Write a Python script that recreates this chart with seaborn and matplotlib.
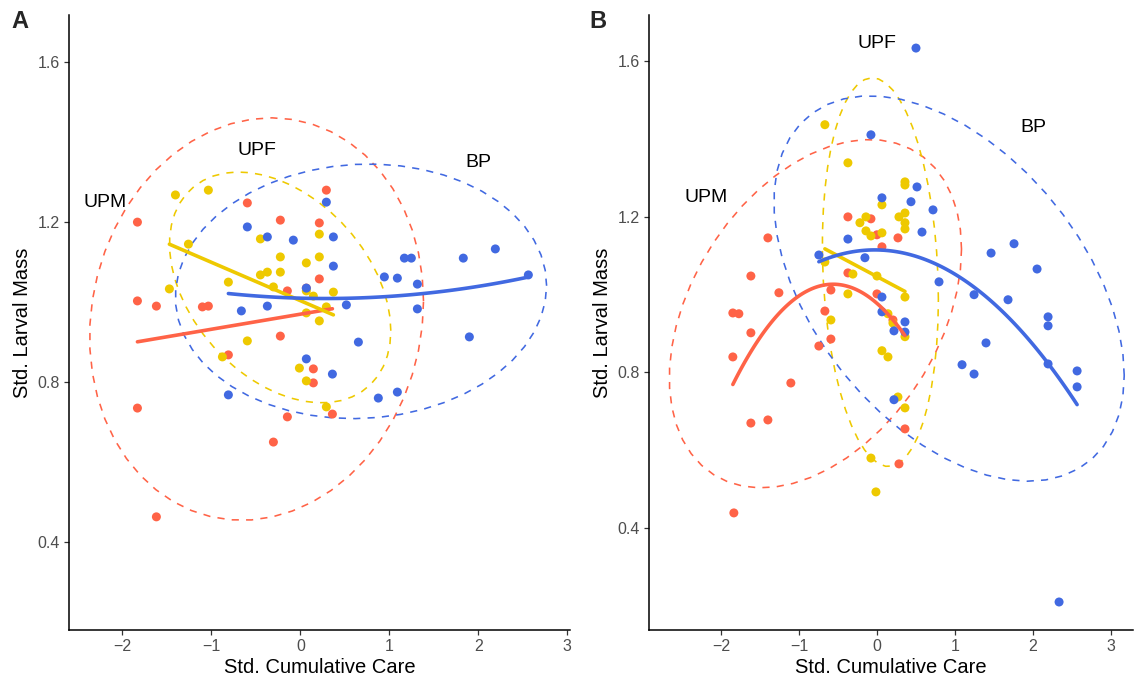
import numpy as np
import pandas as pd
import matplotlib
matplotlib.use("Agg")
import matplotlib.pyplot as plt
import seaborn as sns

# ---------------- data ----------------
groups = ["UPM", "UPF", "BP"]
palette = {"UPM": "#FF6347", "UPF": "#EEC900", "BP": "#4169E1"}

# Panel A
a_upm_x = [-1.831, -0.596, 0.292, -0.225, 0.213, 0.213, -0.146, 0.067, -1.831, -1.618, -1.101,
           -1.034, -0.225, -0.809, 0.146, 0.146, 0.360, -0.146, -0.303, -1.831, -1.618]
a_upm_y = [1.200, 1.248, 1.280, 1.205, 1.198, 1.058, 1.028, 1.035, 1.003, 0.990, 0.988,
           0.990, 0.915, 0.868, 0.833, 0.798, 0.720, 0.713, 0.650, 0.735, 0.463]
a_upf_x = [-1.404, -1.034, -0.449, 0.213, -1.258, -0.225, 0.067, 0.213, -0.449, -0.371, -0.225,
           -0.809, -0.303, 0.146, 0.371, -1.472, 0.292, 0.067, 0.067, 0.213, -0.596, -0.876,
           -0.011, 0.067, 0.292]
a_upf_y = [1.268, 1.280, 1.158, 1.170, 1.145, 1.113, 1.098, 1.113, 1.068, 1.075, 1.075,
           1.050, 1.038, 1.015, 1.025, 1.033, 0.988, 1.028, 0.973, 0.953, 0.903, 0.863,
           0.835, 0.803, 0.738]
a_bp_x = [0.292, -0.596, -0.371, -0.079, 0.371, 0.371, 0.067, -0.663, -0.371, 0.517, 1.169,
          1.247, 0.944, 1.090, 1.315, 1.315, 0.652, 0.067, 0.360, -0.809, 0.876, 1.090,
          1.831, 2.191, 2.562, 1.899]
a_bp_y = [1.250, 1.188, 1.163, 1.155, 1.163, 1.090, 1.035, 0.978, 0.990, 0.993, 1.110,
          1.110, 1.063, 1.060, 1.045, 0.983, 0.900, 0.858, 0.820, 0.768, 0.760, 0.775,
          1.110, 1.133, 1.068, 0.913]

# Panel B
b_upm_x = [-0.372, -0.077, 0.000, 0.269, 0.064, -1.397, -1.615, -1.256, -1.846, -1.769, -1.615,
           -1.846, -1.103, -1.615, -1.397, -0.372, -0.590, 0.000, -0.667, 0.205, -0.590, -0.744,
           0.359, 0.282, -1.833]
b_upm_y = [1.200, 1.195, 1.154, 1.146, 1.123, 1.146, 1.048, 1.005, 0.953, 0.951, 0.902,
           0.840, 0.773, 0.670, 0.678, 1.056, 1.012, 1.002, 0.958, 0.935, 0.886, 0.868,
           0.655, 0.565, 0.439]
b_upf_x = [-0.667, -0.372, 0.359, 0.359, 0.064, -0.141, -0.218, 0.282, 0.359, 0.359, 0.359,
           -0.141, -0.077, 0.064, -0.667, -0.308, 0.000, -0.372, 0.359, 0.141, -0.590, 0.205,
           0.359, 0.064, 0.141, 0.269, 0.359, -0.077, -0.013]
b_upf_y = [1.437, 1.339, 1.290, 1.282, 1.231, 1.200, 1.185, 1.200, 1.210, 1.185, 1.169,
           1.164, 1.151, 1.159, 1.084, 1.053, 1.048, 1.002, 0.994, 0.951, 0.935, 0.927,
           0.892, 0.856, 0.840, 0.737, 0.709, 0.580, 0.493]
b_bp_x = [0.500, -0.077, 0.064, 0.436, 0.513, 0.718, 0.577, -0.372, -0.154, -0.744, 0.064,
          0.064, 0.218, 0.359, 0.359, 0.795, 1.244, 1.090, 1.244, 0.218, 1.462, 1.756,
          2.051, 1.679, 2.192, 2.192, 1.397, 2.192, 2.564, 2.564, 2.333]
b_bp_y = [1.634, 1.411, 1.249, 1.239, 1.277, 1.218, 1.161, 1.143, 1.095, 1.102, 0.994,
          0.956, 0.907, 0.930, 0.904, 1.033, 1.000, 0.820, 0.796, 0.730, 1.107, 1.131,
          1.066, 0.987, 0.943, 0.920, 0.876, 0.822, 0.804, 0.763, 0.210]

fit_order_a = {"UPM": 1, "UPF": 1, "BP": 2}
fit_order_b = {"UPM": 2, "UPF": 1, "BP": 2}

labels_a = {"UPM": (-2.19, 1.25), "UPF": (-0.49, 1.38), "BP": (2.0, 1.35)}
labels_b = {"UPM": (-2.19, 1.25), "UPF": (0.0, 1.647), "BP": (2.0, 1.429)}


def make_df(d):
    parts = []
    for g in groups:
        x, y = d[g]
        parts.append(pd.DataFrame({"care": x, "mass": y, "group": g}))
    return pd.concat(parts, ignore_index=True)


df_a = make_df({"UPM": (a_upm_x, a_upm_y), "UPF": (a_upf_x, a_upf_y), "BP": (a_bp_x, a_bp_y)})
df_b = make_df({"UPM": (b_upm_x, b_upm_y), "UPF": (b_upf_x, b_upf_y), "BP": (b_bp_x, b_bp_y)})


# ---------------- ellipse helpers (like ggplot2 stat_ellipse, type "t") ----------------
def cov_trob(X, nu=5, maxit=25, tol=0.01):
    n, p = X.shape
    wt = np.ones(n)
    loc = X.mean(axis=0)
    w = np.sqrt(wt)
    Xc = X - loc
    for _ in range(maxit):
        w0 = w
        Xc = X - loc
        A = np.sqrt(w / w.sum())[:, None] * Xc
        _, d, Vt = np.linalg.svd(A, full_matrices=False)
        wX = Xc @ Vt.T @ np.diag(1.0 / d)
        Q = (wX ** 2).sum(axis=1)
        w = (wt * (nu + p)) / (nu + Q)
        loc = (w[:, None] * X).sum(axis=0) / w.sum()
        if np.all(np.abs(w - w0) < tol):
            break
    cov = (np.sqrt(w)[:, None] * Xc).T @ (np.sqrt(w)[:, None] * Xc) / wt.sum()
    return loc, cov


def ellipse_path(x, y, level=0.95, segments=51):
    X = np.column_stack([x, y]).astype(float)
    n = len(X)
    center, shape = cov_trob(X)
    dfd = n - 1
    fq = (dfd / 2.0) * ((1 - level) ** (-2.0 / dfd) - 1)
    radius = np.sqrt(2 * fq)
    ang = np.linspace(0, 2 * np.pi, segments + 1)
    circle = np.column_stack([np.cos(ang), np.sin(ang)])
    L = np.linalg.cholesky(shape)
    pts = center + radius * (circle @ L.T)
    return pts[:, 0], pts[:, 1]


# ---------------- figure ----------------
sns.set_theme(style="ticks")
plt.rcParams["font.family"] = ["Liberation Sans", "DejaVu Sans"]

W, H = 1135, 680
fig = plt.figure(figsize=(W / 100, H / 100), dpi=100)

ax_a = fig.add_axes([69 / W, 50 / H, (570 - 69) / W, 615 / H])
ax_b = fig.add_axes([649 / W, 50 / H, (1133 - 649) / W, 615 / H])


def draw_panel(ax, df, orders, labels, xlim, ylim):
    for g in groups:
        sub = df[df.group == g]
        ex, ey = ellipse_path(sub.care.values, sub.mass.values)
        ax.plot(ex, ey, color=palette[g], lw=1.15, ls=(0, (4.5, 4.5)), zorder=2)
    sns.scatterplot(data=df, x="care", y="mass", hue="group", palette=palette,
                    s=42, linewidth=0, legend=False, ax=ax, zorder=3)
    for g in groups:
        sub = df[df.group == g]
        sns.regplot(data=sub, x="care", y="mass", order=orders[g], ci=None, scatter=False,
                    color=palette[g], line_kws={"lw": 2.6, "zorder": 4}, ax=ax)
    for g, (lx, ly) in labels.items():
        ax.text(lx, ly, g, fontsize=14, ha="center", va="center", color="black", zorder=5)
    ax.set_xlim(*xlim)
    ax.set_ylim(*ylim)
    ax.set_xticks([-2, -1, 0, 1, 2, 3])
    ax.set_yticks([0.4, 0.8, 1.2, 1.6])
    ax.set_xticklabels(["\u22122", "\u22121", "0", "1", "2", "3"])
    ax.set_yticklabels(["0.4", "0.8", "1.2", "1.6"])
    ax.set_xlabel("Std. Cumulative Care", fontsize=14.5, color="black", labelpad=3)
    ax.set_ylabel("Std. Larval Mass", fontsize=14.5, color="black", labelpad=4)
    ax.tick_params(axis="both", labelsize=11.5, labelcolor="#4D4D4D", color="#333333",
                   length=3.5, width=0.9, pad=3)
    for s in ["top", "right"]:
        ax.spines[s].set_visible(False)
    for s in ["left", "bottom"]:
        ax.spines[s].set_color("black")
        ax.spines[s].set_linewidth(1.1)
    ax.set_facecolor("white")


draw_panel(ax_a, df_a, fit_order_a, labels_a, (-2.6, 3.03), (0.18, 1.718))
draw_panel(ax_b, df_b, fit_order_b, labels_b, (-2.92, 3.28), (0.138, 1.719))

fig.text(20 / W, 1 - 22 / H, "A", fontsize=17, fontweight="bold", ha="center", va="center")
fig.text(598 / W, 1 - 22 / H, "B", fontsize=17, fontweight="bold", ha="center", va="center")

fig.savefig("out.png", dpi=100, facecolor="white")
